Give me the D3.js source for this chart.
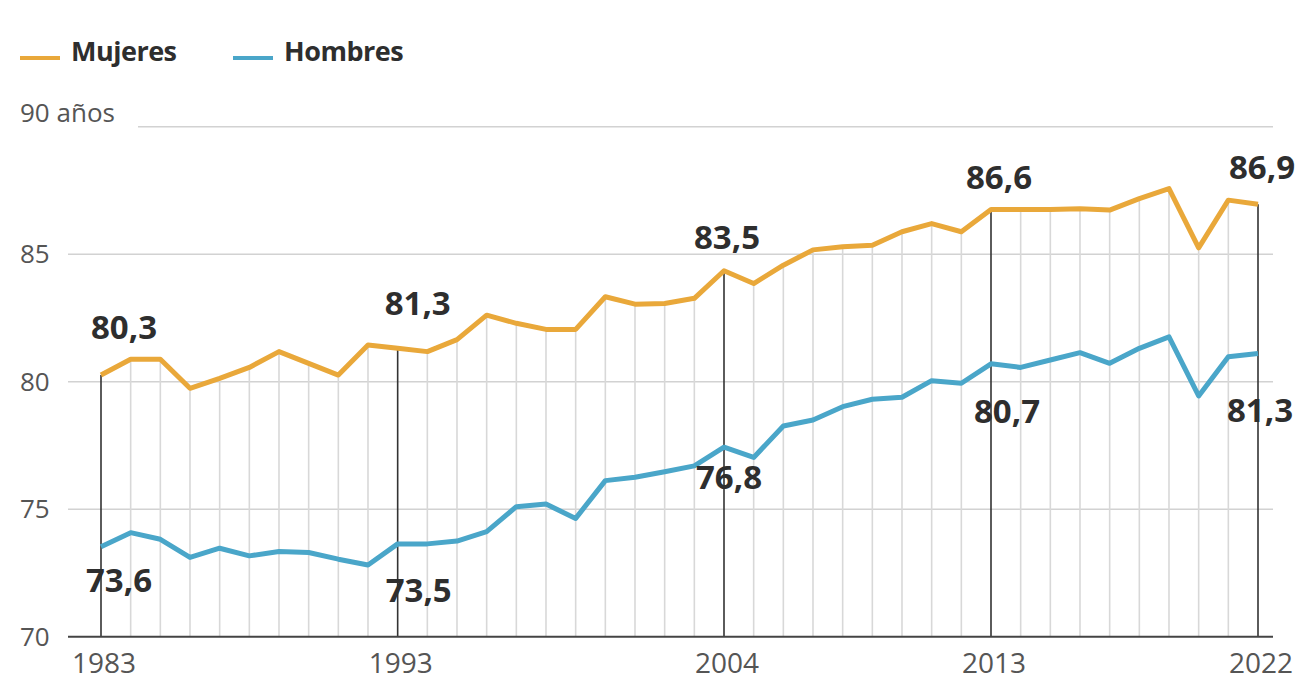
<!DOCTYPE html>
<html>
<head>
<meta charset="utf-8">
<script src="https://cdn.jsdelivr.net/npm/d3@7"></script>
<style>
  body { margin: 0; background: #fff; }
  svg { display: block; font-family: "Open Sans", sans-serif; }
</style>
</head>
<body>
<svg id="chart" width="1300" height="683"></svg>
<script>
// esperanza de vida, 1983-2022
const years = d3.range(1983, 2023);
const mujeres = [80.26, 80.88, 80.88, 79.74, 80.13, 80.56, 81.18, 80.72, 80.26, 81.44,
                 81.31, 81.18, 81.65, 82.61, 82.29, 82.05, 82.05, 83.33, 83.04, 83.07,
                 83.27, 84.35, 83.85, 84.57, 85.17, 85.29, 85.35, 85.88, 86.2, 85.88,
                 86.75, 86.75, 86.75, 86.78, 86.73, 87.18, 87.57, 85.25, 87.12, 86.96];
const hombres = [73.53, 74.08, 73.82, 73.11, 73.47, 73.17, 73.34, 73.3, 73.04, 72.81,
                 73.64, 73.64, 73.75, 74.12, 75.1, 75.2, 74.64, 76.12, 76.25, 76.47,
                 76.7, 77.43, 77.03, 78.26, 78.5, 79.02, 79.31, 79.39, 80.04, 79.94,
                 80.7, 80.56, 80.85, 81.14, 80.72, 81.31, 81.76, 79.44, 80.98, 81.11];
const labelYears = [1983, 1993, 2004, 2013, 2022];
const labelMujeres = ["80,3", "81,3", "83,5", "86,6", "86,9"];
const labelHombres = ["73,6", "73,5", "76,8", "80,7", "81,3"];
const yTicks = [70, 75, 80, 85, 90];

const colMuj = "#e9a83a", colHom = "#4aa6c9";

const svg = d3.select("#chart");
const x = d3.scaleLinear().domain([1983, 2022]).range([101, 1258]);
const y = d3.scaleLinear().domain([70, 90]).range([636.7, 126.7]);
const gridLeft = 68, gridRight = 1273;

// horizontal grid
svg.append("g").selectAll("line")
  .data(yTicks.filter(d => d > 70))
  .enter().append("line")
  .attr("x1", d => d === 90 ? 138 : gridLeft)
  .attr("x2", gridRight)
  .attr("y1", d => y(d)).attr("y2", d => y(d))
  .attr("stroke", "#d2d2d2").attr("stroke-width", 1.6);

svg.append("g").selectAll("text")
  .data(yTicks)
  .enter().append("text")
  .attr("x", 20)
  .attr("y", d => y(d) + (d === 90 ? -5 : 9))
  .attr("font-size", 26)
  .attr("fill", "#555")
  .text(d => d === 90 ? "90 años" : d);

// vertical lines from the line of mujeres down to the axis
const pts = years.map((yr, i) => ({yr, m: mujeres[i], h: hombres[i]}));
svg.append("g").selectAll("line")
  .data(pts.filter(d => !labelYears.includes(d.yr)))
  .enter().append("line")
  .attr("x1", d => x(d.yr)).attr("x2", d => x(d.yr))
  .attr("y1", d => y(d.m)).attr("y2", y(70))
  .attr("stroke", "#d8d8d8").attr("stroke-width", 1.6);

svg.append("g").selectAll("line")
  .data(pts.filter(d => labelYears.includes(d.yr)))
  .enter().append("line")
  .attr("x1", d => x(d.yr)).attr("x2", d => x(d.yr))
  .attr("y1", d => y(d.m)).attr("y2", y(70))
  .attr("stroke", "#333").attr("stroke-width", 1.6);

// axis
svg.append("line")
  .attr("x1", gridLeft).attr("x2", gridRight)
  .attr("y1", y(70)).attr("y2", y(70))
  .attr("stroke", "#444").attr("stroke-width", 2);

svg.append("g").selectAll("text")
  .data(labelYears)
  .enter().append("text")
  .attr("x", d => x(d) + 3)
  .attr("y", 673)
  .attr("text-anchor", "middle")
  .attr("font-size", 28)
  .attr("fill", "#555")
  .text(d => d);

// lines
const line = key => d3.line().x(d => x(d.yr)).y(d => y(d[key]));
svg.append("path").datum(pts)
  .attr("d", line("h"))
  .attr("fill", "none").attr("stroke", colHom)
  .attr("stroke-width", 5).attr("stroke-linejoin", "round");
svg.append("path").datum(pts)
  .attr("d", line("m"))
  .attr("fill", "none").attr("stroke", colMuj)
  .attr("stroke-width", 5).attr("stroke-linejoin", "round");

// value labels
const mOff = [[23, -36], [20, -33], [3, -22], [8, -21], [4, -25]];
const hOff = [[18, 45], [21, 58], [5, 42], [16, 59], [2, 69]];
svg.append("g").selectAll("text")
  .data(labelYears)
  .enter().append("text")
  .attr("x", (d, i) => x(d) + mOff[i][0])
  .attr("y", (d, i) => y(mujeres[years.indexOf(d)]) + mOff[i][1])
  .attr("text-anchor", "middle")
  .attr("font-size", 33).attr("font-weight", 700)
  .attr("fill", "#2e2e2e")
  .text((d, i) => labelMujeres[i]);
svg.append("g").selectAll("text")
  .data(labelYears)
  .enter().append("text")
  .attr("x", (d, i) => x(d) + hOff[i][0])
  .attr("y", (d, i) => y(hombres[years.indexOf(d)]) + hOff[i][1])
  .attr("text-anchor", "middle")
  .attr("font-size", 33).attr("font-weight", 700)
  .attr("fill", "#2e2e2e")
  .text((d, i) => labelHombres[i]);

// legend
const legend = [{name: "Mujeres", c: colMuj, x: 20}, {name: "Hombres", c: colHom, x: 233}];
const lg = svg.append("g").selectAll("g").data(legend).enter().append("g")
  .attr("transform", d => `translate(${d.x},58)`);
lg.append("line").attr("x1", 0).attr("x2", 40)
  .attr("stroke", d => d.c).attr("stroke-width", 4);
lg.append("text").attr("x", 51).attr("y", 3)
  .attr("font-size", 27).attr("font-weight", 700)
  .attr("letter-spacing", -0.5)
  .attr("fill", "#2e2e2e")
  .text(d => d.name);
</script>
</body>
</html>
